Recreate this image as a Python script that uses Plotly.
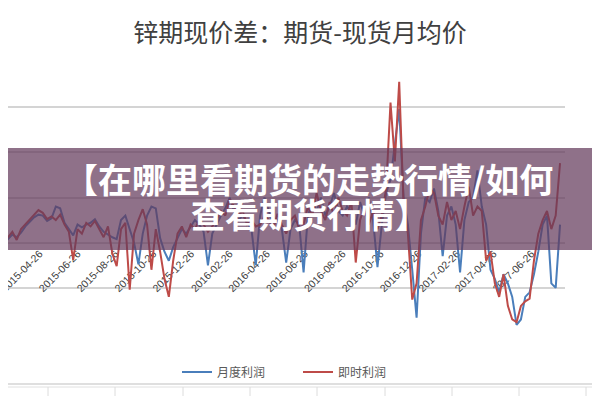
import pandas as pd
import plotly.graph_objects as go

title_text = "锌期现价差：期货-现货月均价"
banner_line1 = "【在哪里看期货的走势行情/如何"
banner_line2 = "查看期货行情】"
series_names = ["月度利润", "即时利润"]

dates = pd.date_range("2015-02-13", periods=131, freq="7D")

monthly_profit = [
    80,
    60, 180, 40, 90, 60, 110, 180, 230, 280, 310,
    300, 240, 270, 400, 380, 220, 150, 80, 200, 170,
    200, 220, 260, 180, 120, 90, 60, 40, 250, 300,
    150, 0, -240, 100, 300, 400, 380, 50, -100, -200,
    -50, 60, 150, 100, 180, 250, 200, 120, -250, 100,
    200, 300, 380, 500, 350, 250, 300, 220, 150, -250,
    300, 500, 350, 200, 250, 150, -220, 150, 250, 200,
    -330, 300, 450, 350, 500, 300, 400, 550, 350, 300,
    400, 350, 200, 450, 300, 500, 250, -270, 200, 550,
    700, 1100, 1480, 500, 200, -300, -830, 100, 500, 450,
    600, 350, -150, 300, 400, 200, -330, 250, 450, 500,
    800, 400, 200, -300, -400, -550, -350, -450, -600, -910,
    -850, -600, -550, -350, -100, 200, 300, -450, -500, 200,
]

instant_profit = [
    100,
    80, 20, 60, 120, 30, 150, 200, 260, 300, 360,
    330, 260, 290, 250, 310, 200, 120, -190, 150, 100,
    220, 180, 240, 150, 60, 180, -120, -260, 150, 220,
    -520, 100, 250, 370, 200, -300, 150, -100, -400, -600,
    -200, 100, 180, 60, 200, 150, 250, 200, 120, 180,
    250, 350, 300, 480, 400, 300, 350, 200, 250, 180,
    200, 300, 250, 150, 320, 200, 100, 250, 300, 150,
    200, 400, 300, 550, 350, 250, 450, 300, 500, 350,
    300, 450, -220, 250, 400, 200, 350, 150, 300, 600,
    1550, 900, 1780, 440, 100, -630, -450, 250, 400, 600,
    550, 300, 200, 450, 250, 350, 150, 400, 620, 300,
    400, 350, -200, -100, -450, -600, -350, -700, -850, -880,
    -700, -650, -620, -200, 100, 250, 350, 150, 300, 880,
]

tick_labels = [
    "2015-02-26", "2015-04-26", "2015-06-26", "2015-08-26", "2015-10-26", "2015-12-26",
    "2016-02-26", "2016-04-26", "2016-06-26", "2016-08-26", "2016-10-26", "2016-12-26",
    "2017-02-26", "2017-04-26", "2017-06-26",
]

fig = go.Figure()
fig.add_trace(go.Scatter(x=dates, y=monthly_profit, mode="lines", name=series_names[0],
                         line=dict(color="#4a7ebb", width=2)))
fig.add_trace(go.Scatter(x=dates, y=instant_profit, mode="lines", name=series_names[1],
                         line=dict(color="#be4b48", width=2)))

# page offset of the figure div (default body margin)
OFF = 8.0
FW, FH = 592, 392
PLOT_L, PLOT_R, PLOT_T, PLOT_B = 8.0, 565.0, 62.0, 333.0
PW = PLOT_R - PLOT_L
PH = PLOT_B - PLOT_T

def px_x(p):
    return (p - PLOT_L) / PW

def px_y(p):
    return (PLOT_B - p) / PH

shapes = [
    dict(type="rect", xref="paper", yref="paper", x0=px_x(0), x1=px_x(605),
         y0=px_y(250), y1=px_y(148), fillcolor="rgba(100,58,92,0.72)",
         line=dict(width=0), layer="above"),
    dict(type="line", xref="paper", yref="paper", x0=px_x(0), x1=px_x(605),
         y0=px_y(384), y1=px_y(384), line=dict(color="#d4d4d4", width=1.5)),
    dict(type="line", xref="paper", yref="paper", x0=px_x(0), x1=px_x(605),
         y0=px_y(387), y1=px_y(387), line=dict(color="#e0e0e0", width=1)),
]
for gx in [48, 115, 183, 250, 317, 385, 452, 519, 586]:
    shapes.append(dict(type="line", xref="paper", yref="paper", x0=px_x(gx), x1=px_x(gx),
                       y0=px_y(387), y1=px_y(396), line=dict(color="#dcdcdc", width=1)))

annotations = [
    dict(text="<b>" + banner_line1 + "</b>", xref="paper", yref="paper",
         x=px_x(308), y=px_y(178), showarrow=False,
         font=dict(family="Noto Sans CJK SC", size=34, color="white")),
    dict(text="<b>" + banner_line2 + "</b>", xref="paper", yref="paper",
         x=px_x(310), y=px_y(213), showarrow=False,
         font=dict(family="Noto Sans CJK SC", size=34, color="white")),
]

fig.update_layout(
    width=FW, height=FH,
    margin=dict(l=int(PLOT_L - OFF), r=int(FW - (PLOT_R - OFF)), t=int(PLOT_T - OFF),
                b=int(FH - (PLOT_B - OFF)), autoexpand=False),
    paper_bgcolor="white", plot_bgcolor="white",
    title=dict(text=title_text, xref="container", x=(300 - OFF) / FW, xanchor="center",
               yref="container", y=1 - (33 - OFF) / FH, yanchor="middle",
               font=dict(family="Noto Sans CJK SC", size=25, color="#404040")),
    xaxis=dict(type="date", range=["2015-03-06", "2017-08-19"],
               tickvals=tick_labels, ticktext=tick_labels, tickangle=-45,
               tickfont=dict(family="Liberation Sans", size=10.5, color="#404040"),
               ticklabeloverflow="allow", ticklabelstandoff=0,
               showgrid=False, anchor="free", position=1/3, showline=True,
               linecolor="#d0d0d0", layer="below traces", ticks=""),
    yaxis=dict(range=[-1000, 2000], dtick=500, showticklabels=False,
               showgrid=True, gridcolor="#d4d4d4", gridwidth=1.5, zeroline=False),
    legend=dict(orientation="h", x=px_x(298), xanchor="center", y=px_y(372), yanchor="middle",
                font=dict(family="Noto Sans CJK SC", size=12, color="#595959"),
                bgcolor="rgba(0,0,0,0)", entrywidth=76, itemwidth=30),
    shapes=shapes,
    annotations=annotations,
    showlegend=True,
)

fig.write_html("out.html")
